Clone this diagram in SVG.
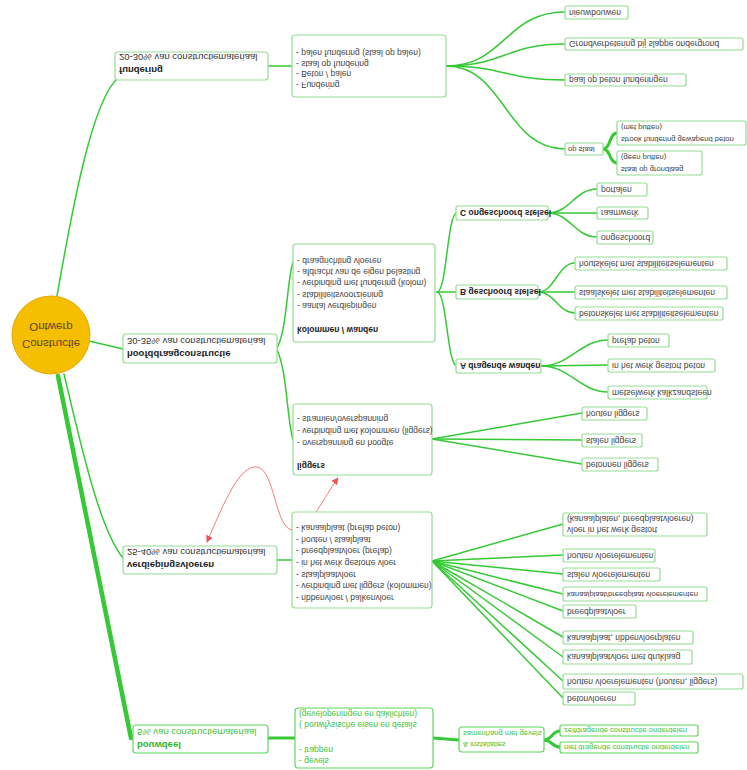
<svg xmlns="http://www.w3.org/2000/svg" width="747" height="770" viewBox="0 0 747 770">
<defs>
<style>
.box{fill:#fff;stroke:#94dd94;stroke-width:1.2}
.gbox{fill:#fff;stroke:#5fd65f;stroke-width:1.2}
.t{font-family:"Liberation Sans",Arial,sans-serif;font-size:8.5px;fill:#444;dominant-baseline:central}
.m{font-size:9.5px;fill:#333}
.s{font-size:7.6px}
.b{font-weight:bold;fill:#222}
.g{fill:#3ec43e}
.gb{fill:#2fb52f}
.c{fill:none;stroke:#35c935;stroke-width:1.5;stroke-linecap:round}
.k{stroke-width:4.5}
.k2{stroke-width:3}
.red{fill:none;stroke:#f47a7a;stroke-width:1}
</style>
<marker id="ah" viewBox="0 0 10 10" refX="9" refY="5" markerWidth="7" markerHeight="7" orient="auto-start-reverse" markerUnits="userSpaceOnUse">
<path d="M0,0 L10,5 L0,10 z" fill="#f05050"/>
</marker>
</defs>
<rect width="747" height="770" fill="#fff"/>

<g id="connectors">
<path class="c" d="M57,296 C72,210 92,100 118,78"/>
<path class="c" d="M89,341 L123,349"/>
<path class="c" d="M64,374 C82,450 100,530 123,558"/>
<path class="c k" d="M58,376 L131,738"/>
<path class="c" d="M268,66 L292,66"/>
<path class="c" d="M446,66 C505,66 505,12 565,12"/>
<path class="c" d="M446,66 C505,66 505,44 565,44"/>
<path class="c" d="M446,66 C505,66 505,80 565,80"/>
<path class="c" d="M446,66 C505,66 505,149 565,149"/>
<path class="c k2" d="M603,149 C611,149 609,133 617,133"/>
<path class="c k2" d="M603,149 C611,149 609,163 617,163"/>
<path class="c" d="M277,348 C287,330 287,280 293,262"/>
<path class="c" d="M277,350 C287,370 287,420 293,440"/>
<path class="c" d="M437,292 C447,292 447,213 457,213"/>
<path class="c" d="M437,292 L457,292"/>
<path class="c" d="M437,292 C447,292 447,366 457,366"/>
<path class="c" d="M548,213 C570,213 575,189 597,189"/>
<path class="c" d="M548,213 L597,213"/>
<path class="c" d="M548,213 C570,213 575,237 597,237"/>
<path class="c" d="M538,292 C555,292 558,263 575,263"/>
<path class="c" d="M538,292 L575,292"/>
<path class="c" d="M538,292 C555,292 558,313 575,313"/>
<path class="c" d="M541,366 C570,366 580,340 608,340"/>
<path class="c" d="M541,366 L608,365"/>
<path class="c" d="M541,366 C570,366 580,392 608,392"/>
<path class="c" d="M432,439 L582,413"/>
<path class="c" d="M432,439 L582,440"/>
<path class="c" d="M432,439 L582,464"/>
<path class="c" d="M277,560 L292,560"/>
<path class="c" d="M432,561 L563,524"/>
<path class="c" d="M432,561 L563,555"/>
<path class="c" d="M432,561 L563,574"/>
<path class="c" d="M432,561 L563,594"/>
<path class="c" d="M432,561 L563,611"/>
<path class="c" d="M432,561 L563,637"/>
<path class="c" d="M432,561 L563,657"/>
<path class="c" d="M432,561 L563,681"/>
<path class="c" d="M432,561 L563,698"/>
<path class="c k2" d="M268,738 L295,738"/>
<path class="c k2" d="M433,738 L459,740"/>
<path class="c k2" d="M544,740 C552,740 552,731 560,731"/>
<path class="c k2" d="M544,740 C552,740 552,747 560,747"/>
<path class="red" d="M207,542 C225,500 240,465 257,467 C275,469 275,530 293,530 C310,530 325,495 338,478" marker-start="url(#ah)" marker-end="url(#ah)"/>
</g>

<g id="root">
<circle cx="51" cy="335" r="39" fill="#f5be00" stroke="#e6a800" stroke-width="1"/>
<text class="t" style="font-size:11.5px;fill:#5a4520" x="51" y="0" text-anchor="middle" transform="translate(0,327) scale(1,-1)">Ontwerp</text>
<text class="t" style="font-size:11.5px;fill:#5a4520" x="51" y="0" text-anchor="middle" transform="translate(0,344) scale(1,-1)">Constructie</text>
</g>

<g id="fundering">
<rect class="box" x="115" y="52" width="153" height="28" rx="3"/>
<text class="t m" x="119" y="0" transform="translate(0,57) scale(1,-1)">20-30% van constructiemateriaal</text>
<text class="t m b" x="119" y="0" transform="translate(0,70) scale(1,-1)">fundering</text>
</g>
<g id="fundering-list">
<rect class="box" x="292" y="35" width="154" height="62" rx="3"/>
<text class="t" x="296" y="0" transform="translate(0,53) scale(1,-1)">- palen fundering (staal op palen)</text>
<text class="t" x="296" y="0" transform="translate(0,64) scale(1,-1)">- staal op fundering</text>
<text class="t" x="296" y="0" transform="translate(0,74) scale(1,-1)">- Beton / palen</text>
<text class="t" x="296" y="0" transform="translate(0,85) scale(1,-1)">- Fundering</text>
</g>
<g id="f1"><rect class="box" x="565" y="6" width="63" height="13" rx="2"/><text class="t" x="569" y="0" transform="translate(0,12.5) scale(1,-1)">nieuwbouwen</text></g>
<g id="f2"><rect class="box" x="565" y="38" width="178" height="12" rx="2"/><text class="t" x="569" y="0" transform="translate(0,44) scale(1,-1)">Grondverbetering bij slappe ondergrond</text></g>
<g id="f3"><rect class="box" x="565" y="74" width="121" height="12" rx="2"/><text class="t" x="569" y="0" transform="translate(0,80) scale(1,-1)">paal op beton funderingen</text></g>
<g id="f4"><rect class="box" x="565" y="143" width="38" height="12" rx="2"/><text class="t s" x="568" y="0" transform="translate(0,149) scale(1,-1)">op staal</text></g>
<g id="f4a"><rect class="box" x="617" y="121" width="129" height="24" rx="2"/>
<text class="t s" x="621" y="0" transform="translate(0,127) scale(1,-1)">(met putten)</text>
<text class="t s" x="621" y="0" transform="translate(0,139) scale(1,-1)">strook fundering gewapend beton</text></g>
<g id="f4b"><rect class="box" x="617" y="151" width="85" height="24" rx="2"/>
<text class="t s" x="621" y="0" transform="translate(0,157) scale(1,-1)">(geen putten)</text>
<text class="t s" x="621" y="0" transform="translate(0,169) scale(1,-1)">staal op grondlaag</text></g>

<g id="hoofddraag">
<rect class="box" x="123" y="334" width="154" height="29" rx="3"/>
<text class="t m" x="127" y="0" transform="translate(0,341) scale(1,-1)">30-35% van constructiemateriaal</text>
<text class="t m b" x="127" y="0" transform="translate(0,354) scale(1,-1)">hoofddraagconstructie</text>
</g>
<g id="kolommen">
<rect class="box" x="293" y="244" width="142" height="98" rx="3"/>
<text class="t" x="297" y="0" transform="translate(0,261) scale(1,-1)">- draagrichting vloeren</text>
<text class="t" x="297" y="0" transform="translate(0,272) scale(1,-1)">- afdracht van de eigen belasting</text>
<text class="t" x="297" y="0" transform="translate(0,283) scale(1,-1)">- verbinding met fundering (kolom)</text>
<text class="t" x="297" y="0" transform="translate(0,295) scale(1,-1)">- stabiliteitsvoorziening</text>
<text class="t" x="297" y="0" transform="translate(0,306) scale(1,-1)">- aantal verdiepingen</text>
<text class="t b" x="297" y="0" transform="translate(0,330) scale(1,-1)">kolommen / wanden</text>
</g>
<g id="nodeC"><rect class="box" x="456" y="206" width="92" height="14" rx="2"/><text class="t b" x="460" y="0" transform="translate(0,213) scale(1,-1)">C ongeschoord stelsel</text></g>
<g id="nodeB"><rect class="box" x="456" y="285" width="82" height="14" rx="2"/><text class="t b" x="460" y="0" transform="translate(0,292) scale(1,-1)">B geschoord stelsel</text></g>
<g id="nodeA"><rect class="box" x="456" y="359" width="85" height="14" rx="2"/><text class="t b" x="460" y="0" transform="translate(0,366) scale(1,-1)">A dragende wanden</text></g>
<g id="c1"><rect class="box" x="597" y="183" width="50" height="13" rx="2"/><text class="t" x="601" y="0" transform="translate(0,189.5) scale(1,-1)">portalen</text></g>
<g id="c2"><rect class="box" x="597" y="207" width="51" height="12" rx="2"/><text class="t" x="601" y="0" transform="translate(0,213) scale(1,-1)">raamwerk</text></g>
<g id="c3"><rect class="box" x="597" y="231" width="56" height="13" rx="2"/><text class="t" x="601" y="0" transform="translate(0,237.5) scale(1,-1)">ongeschoord</text></g>
<g id="b1"><rect class="box" x="575" y="257" width="152" height="13" rx="2"/><text class="t" x="579" y="0" transform="translate(0,263.5) scale(1,-1)">houtskelet met stabiliteitselementen</text></g>
<g id="b2"><rect class="box" x="575" y="286" width="152" height="13" rx="2"/><text class="t" x="579" y="0" transform="translate(0,292.5) scale(1,-1)">staalskelet met stabiliteitselementen</text></g>
<g id="b3"><rect class="box" x="575" y="307" width="148" height="13" rx="2"/><text class="t" x="579" y="0" transform="translate(0,313.5) scale(1,-1)">betonskelet met stabiliteitselementen</text></g>
<g id="a1"><rect class="box" x="608" y="334" width="61" height="13" rx="2"/><text class="t" x="612" y="0" transform="translate(0,340.5) scale(1,-1)">prefab beton</text></g>
<g id="a2"><rect class="box" x="608" y="359" width="107" height="13" rx="2"/><text class="t" x="612" y="0" transform="translate(0,365.5) scale(1,-1)">in het werk gestort beton</text></g>
<g id="a3"><rect class="box" x="608" y="386" width="99" height="13" rx="2"/><text class="t" x="612" y="0" transform="translate(0,392.5) scale(1,-1)">metselwerk kalkzandsteen</text></g>

<g id="liggers">
<rect class="box" x="293" y="404" width="139" height="71" rx="3"/>
<text class="t" x="297" y="0" transform="translate(0,419) scale(1,-1)">- stramien/overspanning</text>
<text class="t" x="297" y="0" transform="translate(0,431) scale(1,-1)">- verbinding met kolommen (liggers)</text>
<text class="t" x="297" y="0" transform="translate(0,443) scale(1,-1)">- overspanning en hoogte</text>
<text class="t b" x="297" y="0" transform="translate(0,466) scale(1,-1)">liggers</text>
</g>
<g id="l1"><rect class="box" x="582" y="407" width="65" height="13" rx="2"/><text class="t" x="586" y="0" transform="translate(0,413.5) scale(1,-1)">houten liggers</text></g>
<g id="l2"><rect class="box" x="582" y="434" width="60" height="13" rx="2"/><text class="t" x="586" y="0" transform="translate(0,440.5) scale(1,-1)">stalen liggers</text></g>
<g id="l3"><rect class="box" x="582" y="458" width="76" height="13" rx="2"/><text class="t" x="586" y="0" transform="translate(0,464.5) scale(1,-1)">betonnen liggers</text></g>

<g id="verdieping">
<rect class="box" x="123" y="546" width="154" height="28" rx="3"/>
<text class="t m" x="127" y="0" transform="translate(0,552) scale(1,-1)">25-40% van constructiemateriaal</text>
<text class="t m b" x="127" y="0" transform="translate(0,565) scale(1,-1)">verdiepingsvloeren</text>
</g>
<g id="verdieping-list">
<rect class="box" x="292" y="512" width="140" height="96" rx="3"/>
<text class="t" x="296" y="0" transform="translate(0,528) scale(1,-1)">- kanaalplaat (prefab beton)</text>
<text class="t" x="296" y="0" transform="translate(0,540) scale(1,-1)">- houten / staalplaat</text>
<text class="t" x="296" y="0" transform="translate(0,551) scale(1,-1)">- breedplaatvloer (prefab)</text>
<text class="t" x="296" y="0" transform="translate(0,563) scale(1,-1)">- in het werk gestorte vloer</text>
<text class="t" x="296" y="0" transform="translate(0,575) scale(1,-1)">- staalplaatvloer</text>
<text class="t" x="296" y="0" transform="translate(0,586) scale(1,-1)">- verbinding met liggers (kolommen)</text>
<text class="t" x="296" y="0" transform="translate(0,598) scale(1,-1)">- ribbenvloer / balkenvloer</text>
</g>
<g id="v1"><rect class="box" x="563" y="513" width="144" height="23" rx="2"/>
<text class="t" x="567" y="0" transform="translate(0,519) scale(1,-1)">(kanaalplaten, breedplaatvloeren)</text>
<text class="t" x="567" y="0" transform="translate(0,530) scale(1,-1)">vloer in het werk gestort</text></g>
<g id="v2"><rect class="box" x="563" y="549" width="92" height="13" rx="2"/><text class="t" x="567" y="0" transform="translate(0,555.5) scale(1,-1)">houten vloerelementen</text></g>
<g id="v3"><rect class="box" x="563" y="568" width="97" height="13" rx="2"/><text class="t" x="567" y="0" transform="translate(0,574.5) scale(1,-1)">stalen vloerelementen</text></g>
<g id="v4"><rect class="box" x="563" y="587" width="144" height="14" rx="2"/><text class="t s" x="567" y="0" transform="translate(0,594) scale(1,-1)">kanaalplaat/breedplaat vloerelementen</text></g>
<g id="v5"><rect class="box" x="563" y="605" width="73" height="13" rx="2"/><text class="t" x="567" y="0" transform="translate(0,611.5) scale(1,-1)">breedplaatvloer</text></g>
<g id="v6"><rect class="box" x="563" y="631" width="130" height="13" rx="2"/><text class="t" x="567" y="0" transform="translate(0,637.5) scale(1,-1)">kanaalplaat, ribbenvloerplaten</text></g>
<g id="v7"><rect class="box" x="563" y="650" width="129" height="14" rx="2"/><text class="t" x="567" y="0" transform="translate(0,657) scale(1,-1)">kanaalplaatvloer met druklaag</text></g>
<g id="v8"><rect class="box" x="563" y="674" width="180" height="15" rx="2"/><text class="t" x="567" y="0" transform="translate(0,681.5) scale(1,-1)">houten vloerelementen (houten, liggers)</text></g>
<g id="v9"><rect class="box" x="563" y="692" width="72" height="13" rx="2"/><text class="t" x="567" y="0" transform="translate(0,698.5) scale(1,-1)">betonvloeren</text></g>

<g id="bouwdeel">
<rect class="gbox" x="133" y="725" width="135" height="28" rx="3"/>
<text class="t m g" x="137" y="0" transform="translate(0,732) scale(1,-1)">5% van constructiemateriaal</text>
<text class="t m b gb" x="137" y="0" transform="translate(0,745) scale(1,-1)">bouwdeel</text>
</g>
<g id="bouwdeel-list">
<rect class="gbox" x="295" y="708" width="138" height="60" rx="3"/>
<text class="t g" x="299" y="0" transform="translate(0,714) scale(1,-1)">(gevelopeningen en daklichten)</text>
<text class="t g" x="299" y="0" transform="translate(0,725) scale(1,-1)">( bouwfysische eisen en details</text>
<text class="t g" x="299" y="0" transform="translate(0,750) scale(1,-1)">- trappen</text>
<text class="t g" x="299" y="0" transform="translate(0,761) scale(1,-1)">- gevels</text>
</g>
<g id="samenhang">
<rect class="gbox" x="459" y="727" width="85" height="25" rx="3"/>
<text class="t s g" x="463" y="0" transform="translate(0,733) scale(1,-1)">samenhang met gevels</text>
<text class="t s g" x="463" y="0" transform="translate(0,744) scale(1,-1)">&amp; installaties</text>
</g>
<g id="s1"><rect class="gbox" x="560" y="725" width="138" height="11" rx="2"/><text class="t s g" x="564" y="0" transform="translate(0,730.5) scale(1,-1)">zelfdragende constructie onderdelen</text></g>
<g id="s2"><rect class="gbox" x="560" y="742" width="138" height="11" rx="2"/><text class="t s g" x="564" y="0" transform="translate(0,747.5) scale(1,-1)">niet dragende constructie onderdelen</text></g>
</svg>
